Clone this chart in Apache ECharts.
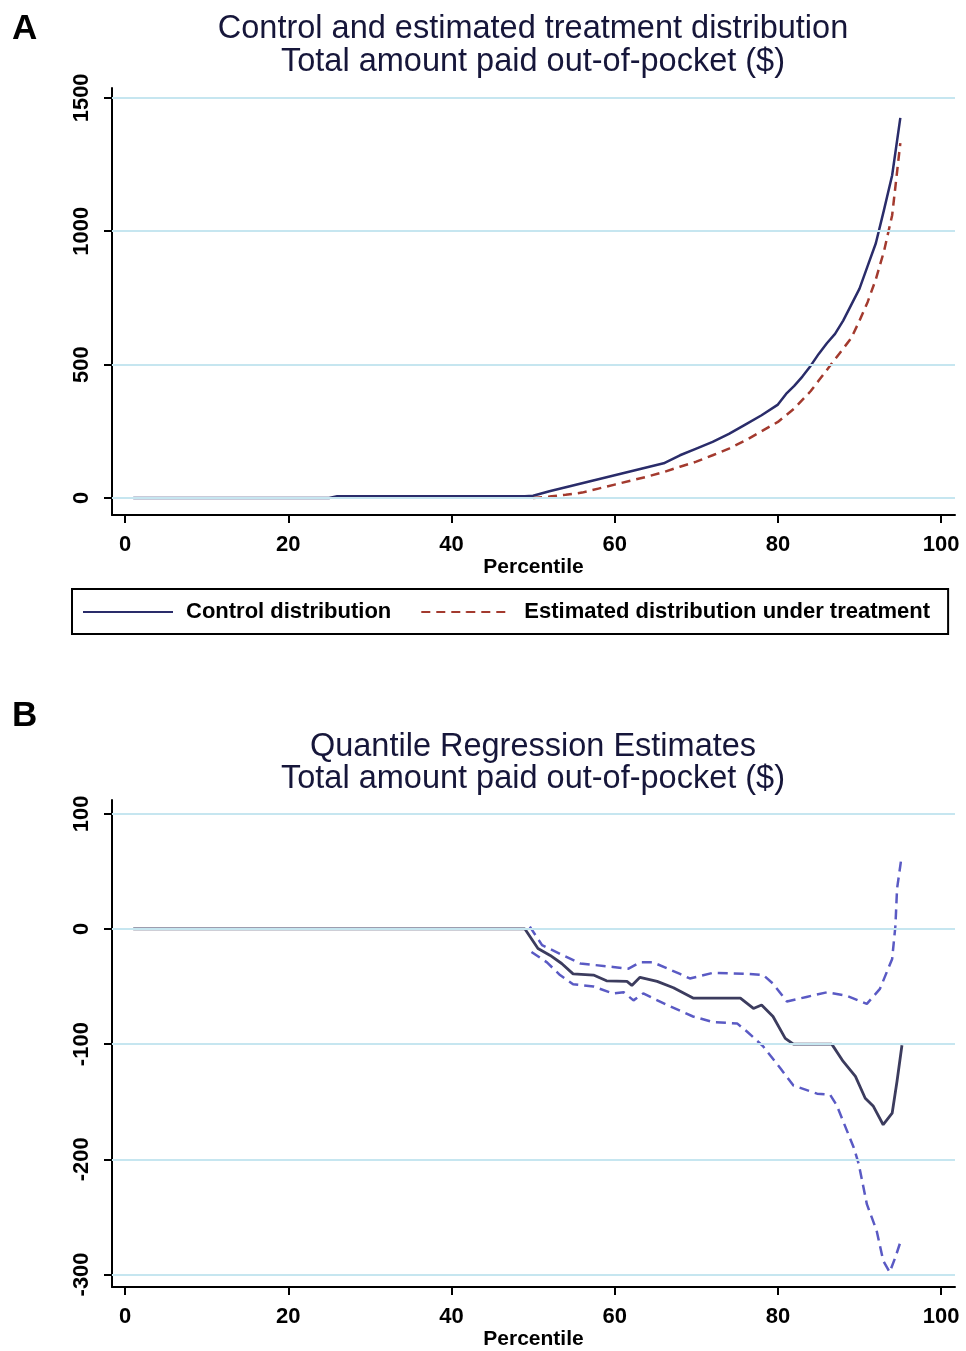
<!DOCTYPE html>
<html><head><meta charset="utf-8">
<script src="https://cdn.jsdelivr.net/npm/echarts@6/dist/echarts.min.js"></script>
<style>html,body{margin:0;padding:0;background:#fff}#c{width:966px;height:1351px}</style>
</head><body><div id="c"></div>
<script>
// ---- data ----
const xTicks = [0, 20, 40, 60, 80, 100];
const yTicksA = [0, 500, 1000, 1500];
const yTicksB = [-300, -200, -100, 0, 100];

const controlA = [[1,0],[25,0],[26,6],[49,6],[50,8],[52,25],[54,40],[56,55],[58,70],[60,85],[62,100],[64,115],[66,130],[68,160],[70,185],[72,210],[74,240],[76,275],[78,310],[80,350],[81,390],[82,420],[83,455],[84,495],[85,540],[86,580],[87,615],[88,665],[89,725],[90,785],[91,870],[92,955],[93,1080],[94,1210],[95,1425]];
const treatA = [[50,0],[52,5],[54,12],[56,20],[58,35],[60,50],[62,65],[64,80],[66,97],[68,117],[70,136],[72,160],[74,185],[76,215],[78,250],[80,285],[82,335],[84,400],[85,440],[86,480],[87,520],[88,560],[89,600],[90,665],[91,735],[92,820],[93,925],[94,1060],[95,1330]];

const estB = [[1,0],[49,0],[50.6,-17],[52.1,-23],[53.5,-30],[54.9,-39],[57.4,-40],[59,-45],[61.5,-45.5],[62.1,-49],[63.1,-42],[65.2,-45.5],[67.2,-51],[69.6,-60],[75.4,-60],[77,-69],[78,-66],[79.4,-76],[80.9,-95],[81.9,-100],[86.6,-100],[88,-115],[89.5,-128],[90.7,-147],[91.7,-154],[92.9,-170],[94,-160],[94.6,-132],[95.2,-101]];
const upperB = [[49.6,2],[51.1,-14],[53.7,-23],[55.8,-30],[59.8,-33],[61.7,-34.5],[63.1,-29],[64.7,-29],[68,-39],[69.2,-43],[72.1,-38],[76.2,-39],[78.2,-40],[79.4,-47.5],[81.1,-63],[83.5,-59],[86,-55],[88.4,-58],[90.9,-65],[92.5,-52],[94,-26],[94.4,3],[94.6,35],[95.1,60]];
const lowerB = [[49.8,-20],[51.7,-29],[53.3,-40],[54.9,-48],[57.4,-50],[59.8,-56],[61.1,-55],[62.3,-62],[63.5,-56],[66.4,-66],[69.6,-76],[72.1,-81],[75,-82],[76.2,-89],[78.2,-102],[80.3,-121],[81.9,-136],[84.8,-143],[86.4,-144],[87.2,-153],[89.3,-190],[89.9,-204],[90.9,-239],[92.1,-262],[92.9,-288],[93.7,-298],[94.4,-285],[95,-272]];

const titleA = 'Control and estimated treatment distribution\nTotal amount paid out-of-pocket ($)';
const titleB = 'Quantile Regression Estimates\nTotal amount paid out-of-pocket ($)';
const xName = 'Percentile';
const legendNames = ['Control distribution', 'Estimated distribution under treatment'];

// ---- chart ----
const FONT = '"Liberation Sans", Arial, sans-serif';
const GRIDC = '#c6e6f0';
const chart = echarts.init(document.getElementById('c'), null, {renderer: 'canvas'});

function xAxisCfg(gi, gap) {
  return {
    type: 'value', gridIndex: gi, min: -1.6, max: 101.7,
    name: xName, nameLocation: 'middle', nameGap: gap,
    nameTextStyle: {fontFamily: FONT, fontSize: 21, fontWeight: 'bold', color: '#000'},
    axisLine: {show: true, onZero: false, lineStyle: {color: '#000', width: 2}},
    axisTick: {show: true, length: 8, lineStyle: {color: '#000', width: 2}, customValues: xTicks},
    axisLabel: {customValues: xTicks, margin: 19, fontFamily: FONT, fontSize: 22, fontWeight: 'bold', color: '#000',
      formatter: v => String(v)},
    splitLine: {show: false}
  };
}
function yAxisCfg(gi, min, max, ticks) {
  return {
    type: 'value', gridIndex: gi, min: min, max: max,
    axisLine: {show: true, onZero: false, lineStyle: {color: '#000', width: 2}},
    axisTick: {show: true, length: 8, lineStyle: {color: '#000', width: 2}, customValues: ticks},
    axisLabel: {customValues: ticks, rotate: 90, margin: 19, fontFamily: FONT, fontSize: 22, fontWeight: 'bold', color: '#000',
      formatter: v => String(v)},
    splitLine: {show: false}
  };
}
function gridSeries(gi, ticks) {
  return {
    type: 'line', xAxisIndex: gi, yAxisIndex: gi, data: [], z: 1, silent: true,
    markLine: {silent: true, symbol: 'none', label: {show: false},
      lineStyle: {color: GRIDC, type: 'solid', width: 2},
      data: ticks.map(v => ({yAxis: v}))}
  };
}

const titleStyle = {fontFamily: FONT, fontSize: 32.5, fontWeight: 'normal', color: '#16163a', lineHeight: 33};
const letterStyle = {fontFamily: FONT, fontSize: 35, fontWeight: 'bold', color: '#000'};

const option = {
  backgroundColor: '#fff',
  animation: false,
  title: [
    {text: titleA, left: 533, top: 13, padding: 0, textAlign: 'center', textStyle: titleStyle},
    {text: 'A', left: 12, top: 12, padding: 0, textStyle: letterStyle},
    {text: titleB, left: 533, top: 731, padding: 0, textAlign: 'center', textStyle: Object.assign({}, titleStyle, {lineHeight: 32})},
    {text: 'B', left: 12, top: 699, padding: 0, textStyle: letterStyle}
  ],
  legend: {
    data: legendNames, left: 72, top: 589, orient: 'horizontal',
    itemWidth: 90, itemHeight: 2, itemGap: 29, padding: [12, 18, 11, 10],
    borderColor: '#000', borderWidth: 2, borderRadius: 0,
    textStyle: {fontFamily: FONT, fontSize: 22, fontWeight: 'bold', color: '#000', padding: [0, 0, 0, 8]},
    selectedMode: false
  },
  grid: [
    {left: 112, top: 88, width: 843, height: 427, containLabel: false},
    {left: 112, top: 800, width: 843, height: 490, containLabel: false}
  ],
  xAxis: [xAxisCfg(0, 34), xAxisCfg(1, 36)],
  yAxis: [yAxisCfg(0, -64, 1537, yTicksA), yAxisCfg(1, -311, 112, yTicksB)],
  series: [
    gridSeries(0, yTicksA),
    gridSeries(1, yTicksB),
    {name: legendNames[0], type: 'line', xAxisIndex: 0, yAxisIndex: 0, data: controlA, symbol: 'none', z: 3,
     lineStyle: {color: '#2a2c6a', width: 2.5}, itemStyle: {color: '#2a2c6a'}},
    {name: legendNames[1], type: 'line', xAxisIndex: 0, yAxisIndex: 0, data: treatA, symbol: 'none', z: 3,
     lineStyle: {color: '#a33a2e', width: 2.5, type: [9, 6]}, itemStyle: {color: '#a33a2e'}},
    {name: 'Estimate', type: 'line', xAxisIndex: 1, yAxisIndex: 1, data: estB, symbol: 'none', z: 3,
     lineStyle: {color: '#3c3c5e', width: 2.8}},
    {name: 'Upper CI', type: 'line', xAxisIndex: 1, yAxisIndex: 1, data: upperB, symbol: 'none', z: 3,
     lineStyle: {color: '#5a5ac4', width: 2.5, type: [10, 6]}},
    {name: 'Lower CI', type: 'line', xAxisIndex: 1, yAxisIndex: 1, data: lowerB, symbol: 'none', z: 3,
     lineStyle: {color: '#5a5ac4', width: 2.5, type: [10, 6]}}
  ]
};
chart.setOption(option);
</script></body></html>
